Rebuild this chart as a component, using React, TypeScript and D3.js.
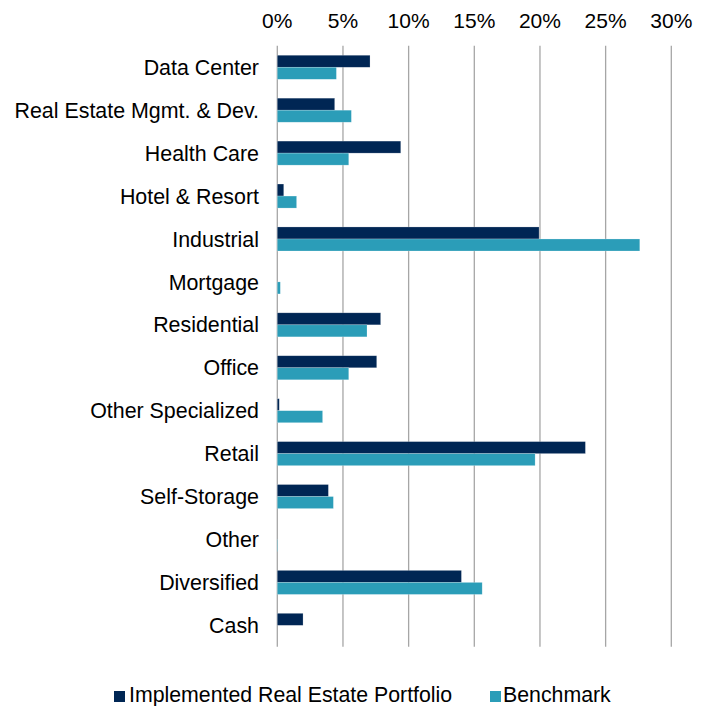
import React from "react";
import * as d3 from "d3";

const categories = [
  "Data Center",
  "Real Estate Mgmt. & Dev.",
  "Health Care",
  "Hotel & Resort",
  "Industrial",
  "Mortgage",
  "Residential",
  "Office",
  "Other Specialized",
  "Retail",
  "Self-Storage",
  "Other",
  "Diversified",
  "Cash",
];
const portfolio = [7.06, 4.37, 9.4, 0.49, 19.93, 0, 7.87, 7.57, 0.15, 23.46, 3.89, 0, 14.02, 1.96];
const benchmark = [4.5, 5.64, 5.44, 1.47, 27.6, 0.23, 6.83, 5.44, 3.45, 19.63, 4.27, 0.03, 15.6, 0];
const seriesNames = ["Implemented Real Estate Portfolio", "Benchmark"];
const tickValues = [0, 5, 10, 15, 20, 25, 30];

const W = 710;
const H = 706;
const colors = ["#002654", "#2b9db8"];
const font = "'Liberation Sans', Arial, sans-serif";

export default function App() {
  const x = d3.scaleLinear().domain([0, 30]).range([277.3, 671.3]);
  const y = d3.scaleBand<string>().domain(categories).range([45.8, 646.8]).paddingInner(0.44).paddingOuter(0.22);
  const bw = y.bandwidth() / 2;
  const series = [portfolio, benchmark];
  return (
    <svg width={W} height={H} style={{ position: "absolute", left: 0, top: 0 }} fontFamily={font}>
      <rect width={W} height={H} fill="#fff" />
      {tickValues.map((t) => (
        <g key={t}>
          <line x1={x(t)} x2={x(t)} y1={45.8} y2={646.8} stroke="#a6a6a6" strokeWidth={1.3} />
          <text x={x(t)} y={28} textAnchor="middle" fontSize={21} fill="#000">
            {t + "%"}
          </text>
        </g>
      ))}
      {categories.map((c, i) => (
        <g key={c}>
          {series.map((s, j) =>
            s[i] > 0 ? (
              <rect
                key={j}
                x={x(0)}
                y={(y(c) as number) + j * bw}
                width={x(s[i]) - x(0)}
                height={bw}
                fill={colors[j]}
                stroke="#ffffff"
                strokeOpacity={0.35}
                strokeWidth={0.6}
              />
            ) : null
          )}
          <text x={259} y={(y(c) as number) + bw + 7.6} textAnchor="end" fontSize={21.4} fill="#000">
            {c}
          </text>
        </g>
      ))}
      <g>
        <rect x={114} y={691} width={11} height={11} fill={colors[0]} />
        <text x={129} y={702} fontSize={21.3} fill="#000">{seriesNames[0]}</text>
        <rect x={490} y={691} width={11} height={11} fill={colors[1]} />
        <text x={503} y={702} fontSize={21.3} fill="#000">{seriesNames[1]}</text>
      </g>
    </svg>
  );
}
